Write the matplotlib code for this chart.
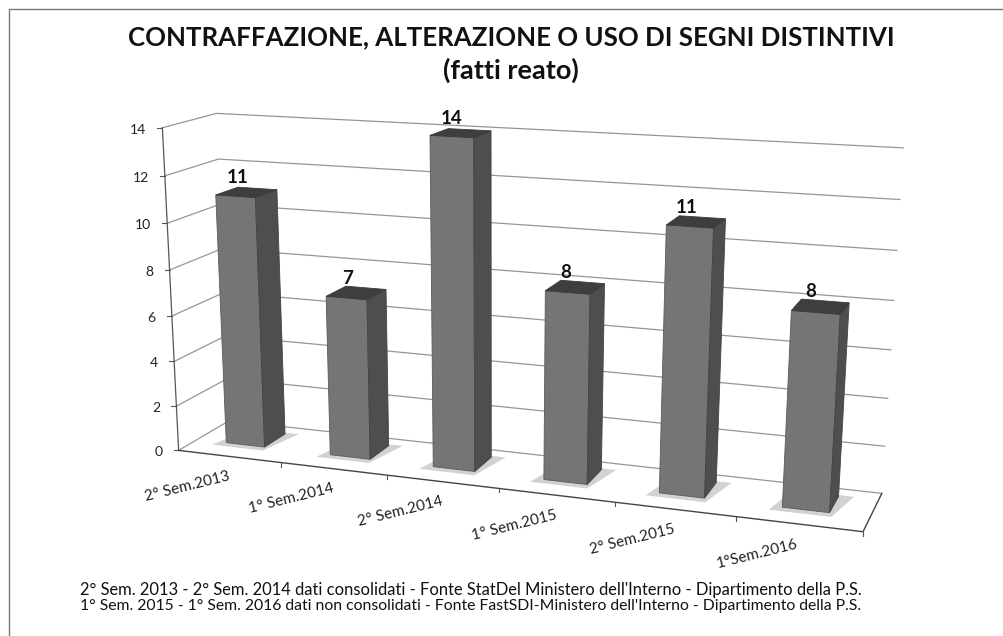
import numpy as np
import matplotlib as mpl
import matplotlib.pyplot as plt
from matplotlib.patches import Polygon

mpl.use('Agg')

categories = ['2° Sem.2013', '1° Sem.2014', '2° Sem.2014', '1° Sem.2015', '2° Sem.2015', '1°Sem.2016']
bar_values = [11, 7, 14, 8, 11, 8]
y_ticks = [0, 2, 4, 6, 8, 10, 12, 14]

title_lines = ['CONTRAFFAZIONE, ALTERAZIONE O USO DI SEGNI DISTINTIVI', '(fatti reato)']
note_lines = ["2° Sem. 2013 - 2° Sem. 2014 dati consolidati - Fonte StatDel Ministero dell'Interno - Dipartimento della P.S.",
              "1° Sem. 2015 - 1° Sem. 2016 dati non consolidati - Fonte FastSDI-Ministero dell'Interno - Dipartimento della P.S."]

# Calibration of the 3D view: (category, depth, value) -> picture pixel
calib_3d = [(0, 0, 0), (0, 0, 14), (0, 1, 0), (0, 1, 14), (6, 1, 0), (6, 1, 14), (6, 0, 0)]
calib_px = [(180, 449), (161, 128), (228, 422), (218, 113), (882, 492), (903, 148), (863, 533)]


def fit_camera(points, pixels):
    rows = []
    rhs = []
    for (x, d, v), (u, w) in zip(points, pixels):
        rows.append([x, d, v, 1, 0, 0, 0, 0, -u * x, -u * d, -u * v])
        rows.append([0, 0, 0, 0, x, d, v, 1, -w * x, -w * d, -w * v])
        rhs += [u, w]
    sol = np.linalg.lstsq(np.array(rows, float), np.array(rhs, float), rcond=None)[0]
    return np.append(sol, 1).reshape(3, 4)


camera = fit_camera(calib_3d, calib_px)


def proj(x, d, v):
    p = camera @ np.array([x, d, v, 1.0])
    return p[0] / p[2], p[1] / p[2]


fig = plt.figure(figsize=(10.04, 6.36), dpi=100)
ax = fig.add_axes([0, 0, 1, 1])
ax.set_xlim(0, 1004)
ax.set_ylim(636, 0)
ax.axis('off')
plt.rcParams['font.family'] = ['Lato', 'DejaVu Sans']

grid_col = '#969696'

# Page frame: top and left edges of the scan
ax.plot([9, 9, 1004], [636, 9, 9], color='#777777', lw=1.0, zorder=1)

# Walls: left wall, back wall, floor edges
for v in y_ticks:
    pts = [proj(0, 0, v), proj(0, 1, v), proj(6, 1, v)]
    ax.plot(*zip(*pts), color=grid_col, lw=0.9, zorder=2)
    px, py = proj(0, 0, v)
    ax.plot([px - 5, px], [py, py], color='#555555', lw=0.8, zorder=2)
    ax.text(px - 16, py + 2, str(v), ha='right', va='center', fontsize=10, color='#222222', zorder=8)
ax.plot(*zip(proj(0, 0, 0), proj(0, 0, 14)), color='#555555', lw=0.9, zorder=2)
floor = [proj(0, 0, 0), proj(6, 0, 0), proj(6, 1, 0)]
ax.plot(*zip(*floor), color='#444444', lw=1.0, zorder=2)
for i in range(1, 7):
    fx, fy = proj(i, 0, 0)
    ax.plot([fx, fx], [fy, fy + 4], color='#555555', lw=0.8, zorder=2)

# Bars, left to right
half_w = 0.19
d0, d1 = 0.36, 0.79
centres = [0.48, 1.5, 2.47, 3.47, 4.47, 5.49]
for i, h in enumerate(bar_values):
    x0, x1 = centres[i] - half_w, centres[i] + half_w
    # soft shadow on the floor
    shadow = [proj(x0 - 0.09, d0 - 0.1, 0), proj(x1 + 0.03, d0 - 0.1, 0),
              proj(x1 + 0.12, d1 + 0.04, 0), proj(x0, d1 + 0.04, 0)]
    ax.add_patch(Polygon(shadow, closed=True, fc='#d2d2d2', ec='none', zorder=3))
    front = [proj(x0, d0, 0), proj(x1, d0, 0), proj(x1, d0, h), proj(x0, d0, h)]
    side = [proj(x1, d0, 0), proj(x1, d1, 0), proj(x1, d1, h), proj(x1, d0, h)]
    top = [proj(x0, d0, h), proj(x1, d0, h), proj(x1, d1, h), proj(x0, d1, h)]
    ax.add_patch(Polygon(front, closed=True, fc='#757575', ec='#5a5a5a', lw=0.6, zorder=4 + i * 0.1))
    ax.add_patch(Polygon(side, closed=True, fc='#4e4e4e', ec='#444444', lw=0.6, zorder=4 + i * 0.1))
    ax.add_patch(Polygon(top, closed=True, fc='#3e3e3e', ec='#3a3a3a', lw=0.6, zorder=4 + i * 0.1))
    lx, ly = proj(centres[i], 0.6, h)
    ax.text(lx - 10, ly - 14, str(bar_values[i]), ha='center', va='center', fontsize=13.5, fontweight='bold',
            color='#111111', zorder=8)

# Category labels along the front edge
for i, label in enumerate(categories):
    mx, my = proj(i + 0.5, 0, 0)
    ax.text(mx - 42, my + 30, label, rotation=14, ha='center', va='center', rotation_mode='anchor',
            fontsize=11, color='#222222', zorder=8)

ax.text(511, 37, title_lines[0], ha='center', va='center', fontsize=18.6, fontweight='bold', color='#111111')
ax.text(511, 70, title_lines[1], ha='center', va='center', fontsize=19.5, fontweight='bold', color='#111111')
ax.text(80, 590, note_lines[0], ha='left', va='center', fontsize=11.9, color='#111111')
ax.text(80, 606, note_lines[1], ha='left', va='center', fontsize=11.35, color='#111111')

fig.savefig('out.png', dpi=100)
